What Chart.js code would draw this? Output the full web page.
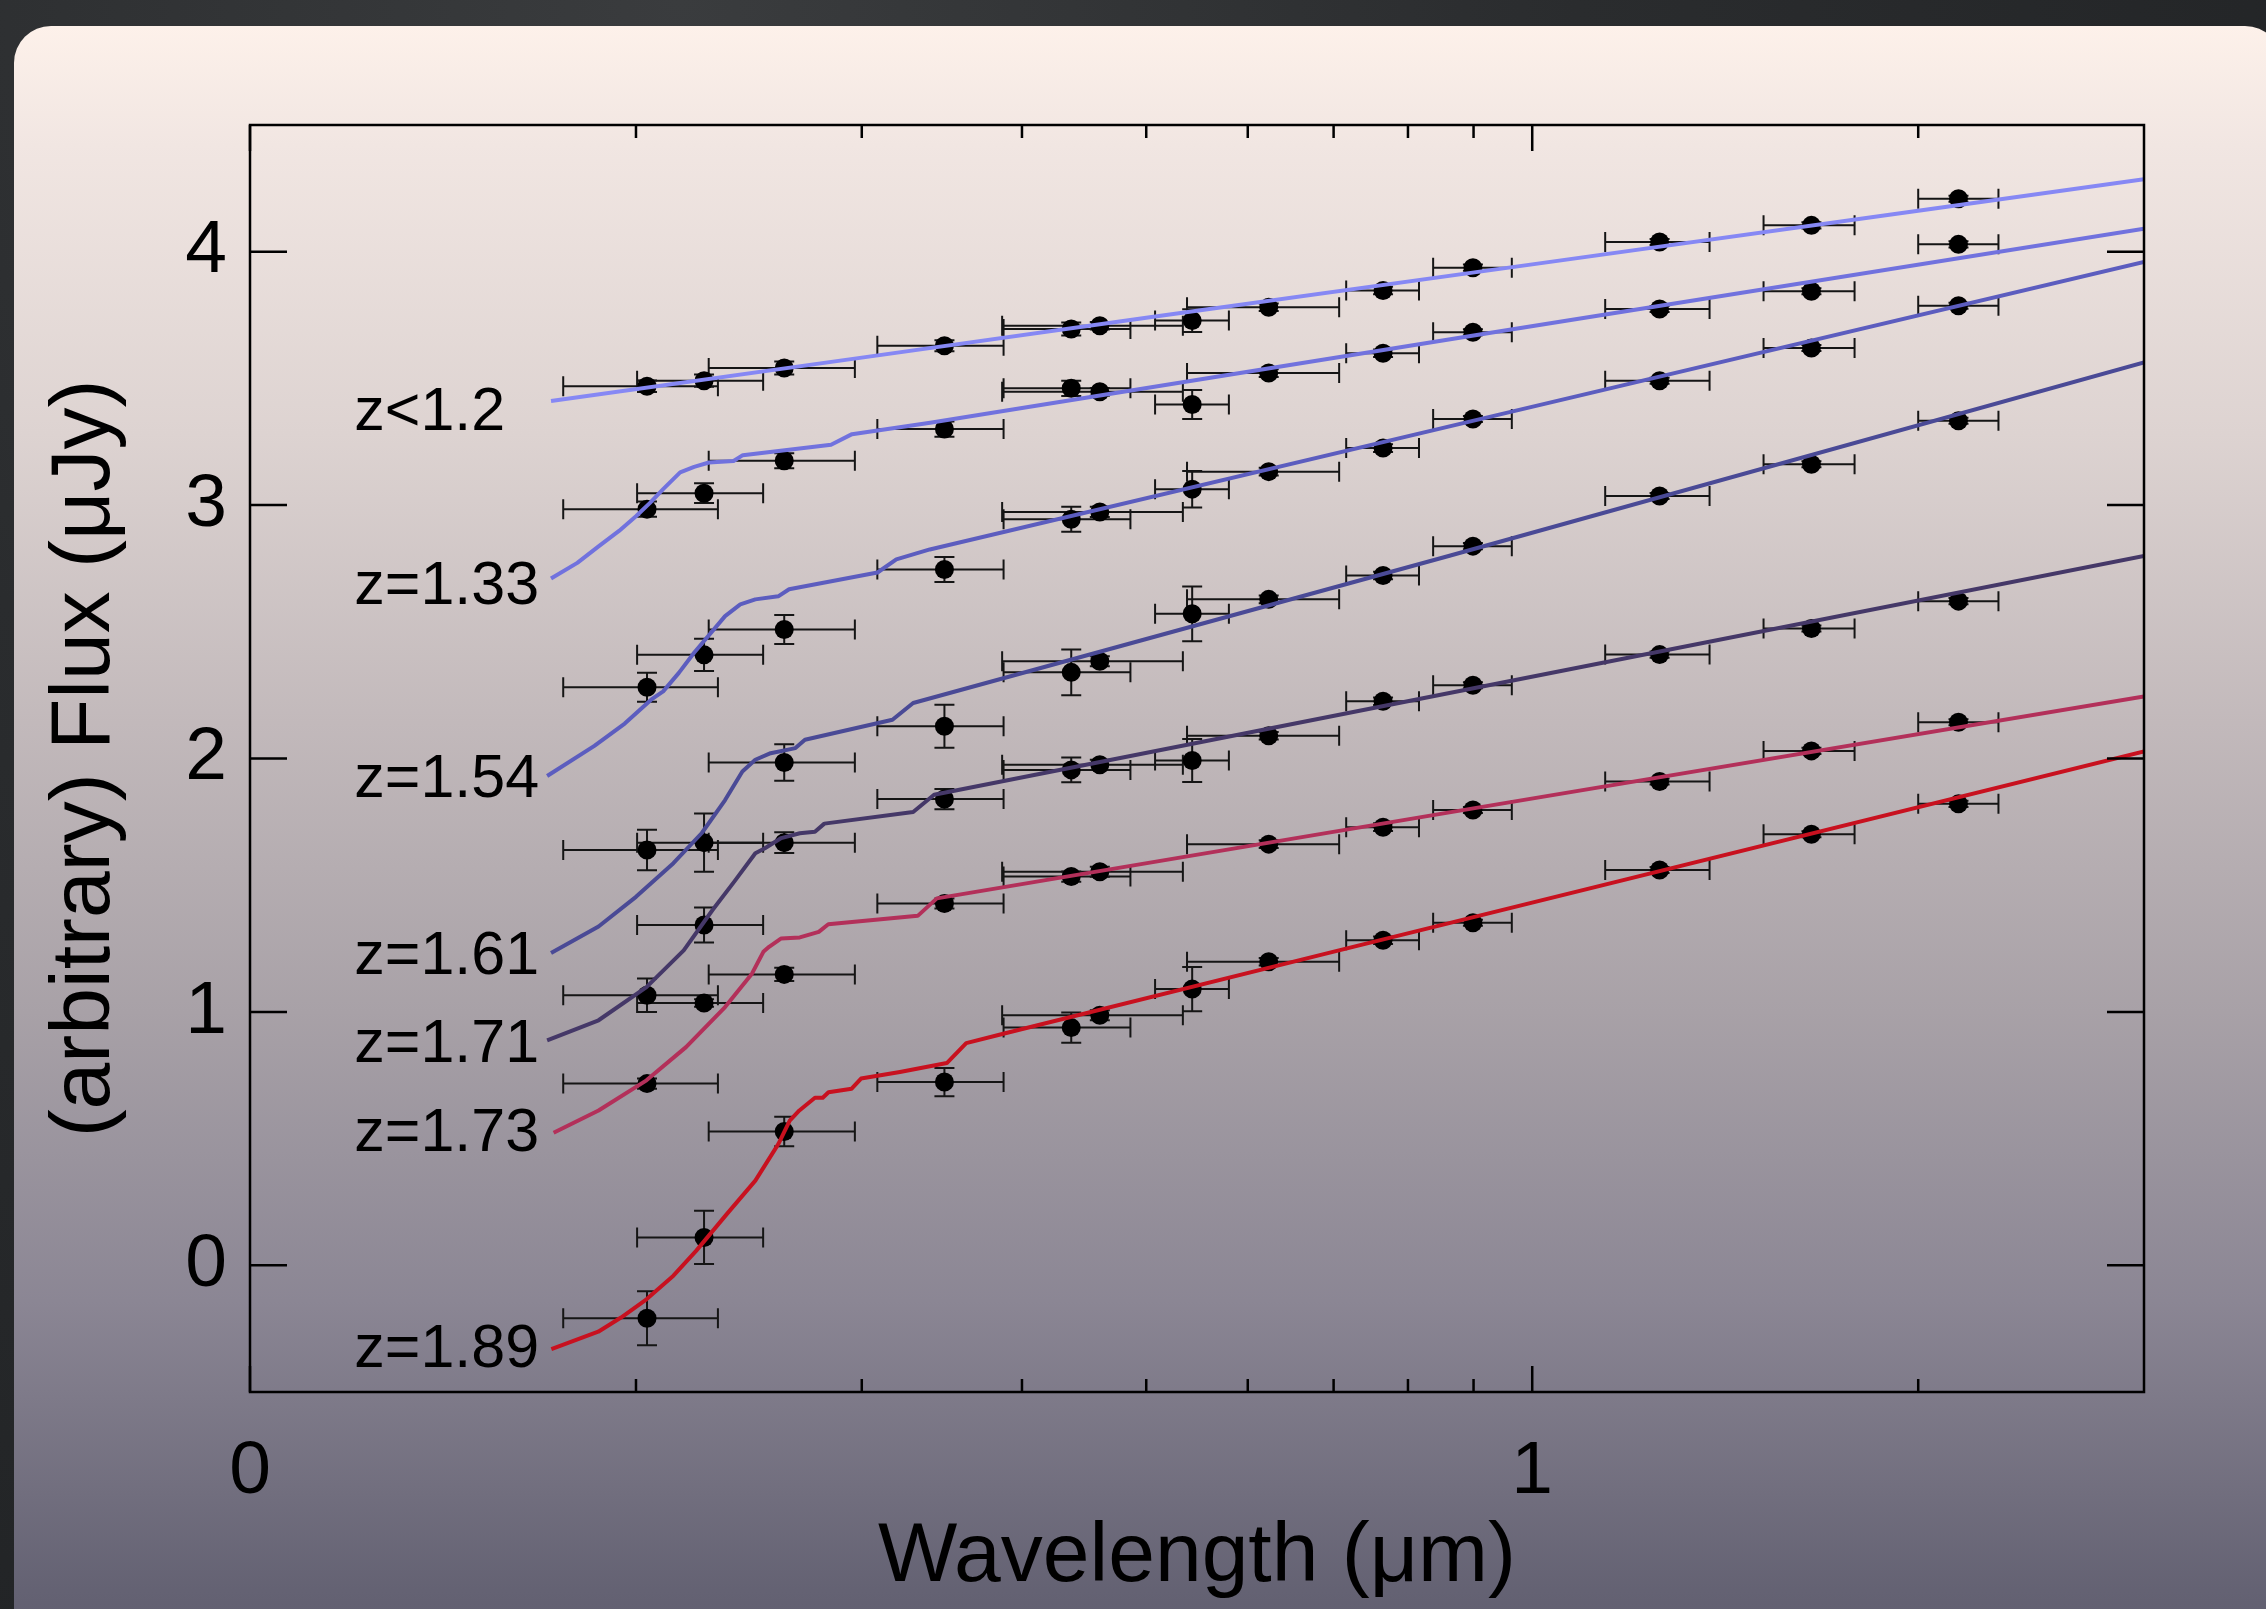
<!DOCTYPE html>
<html lang="en">
<head>
<meta charset="UTF-8">
<title>SED fits by redshift</title>
<script src="https://cdn.jsdelivr.net/npm/chart.js@4.4.1/dist/chart.umd.min.js"></script>
<style>
  html, body { margin: 0; padding: 0; width: 2266px; height: 1609px; overflow: hidden; background: #2b2d2f; }
  body { background: radial-gradient(ellipse at 30% 0%, #3a3c3e 0%, #2a2c2e 40%, #1e2022 100%); }
  #panel {
    position: absolute; left: 14px; top: 26px; width: 2268px; height: 1700px; border-radius: 37px;
    background: linear-gradient(to bottom, #fdf1ea 0%, #f1e6e2 7%, #ddd3d1 24%, #c2b9bb 41%, #a8a1a7 58%, #8b8694 75%, #646273 92%, #5a5869 100%);
  }
  #chart1 { position: absolute; left: 0; top: 0; }
</style>
</head>
<body>
<div id="panel"></div>
<canvas id="chart1" width="2266" height="1609"></canvas>
<script>
// photometric bands (microns): centre and filter edges
const wavelengths = [0.204, 0.226, 0.261, 0.348, 0.437, 0.460, 0.543, 0.623, 0.765, 0.899, 1.257, 1.651, 2.15];
const bandLo = [0.1755, 0.2004, 0.2279, 0.3085, 0.387, 0.386, 0.508, 0.538, 0.716, 0.837, 1.14, 1.515, 2.0];
const bandHi = [0.2317, 0.2513, 0.2963, 0.387, 0.486, 0.534, 0.580, 0.707, 0.816, 0.964, 1.375, 1.784, 2.31];

// stacked fluxes (arbitrary offsets) for each redshift bin
const zLabels = ['z<1.2', 'z=1.33', 'z=1.54', 'z=1.61', 'z=1.71', 'z=1.73', 'z=1.89'];
const fluxZ12  = [3.469, 3.491, 3.541, 3.629, 3.695, 3.708, 3.728, 3.781, 3.847, 3.937, 4.038, 4.104, 4.209];
const fluxZ133 = [2.984, 3.047, 3.175, 3.300, 3.461, 3.447, 3.397, 3.521, 3.599, 3.682, 3.774, 3.844, 4.029];
const fluxZ154 = [2.281, 2.409, 2.509, 2.746, 2.944, 2.973, 3.063, 3.132, 3.225, 3.340, 3.491, 3.620, 3.787];
const fluxZ161 = [1.639, 1.668, 1.984, 2.127, 2.340, 2.384, 2.571, 2.628, 2.722, 2.838, 3.036, 3.161, 3.333];
const fluxZ171 = [1.066, 1.343, 1.668, 1.840, 1.955, 1.975, 1.992, 2.090, 2.226, 2.289, 2.410, 2.513, 2.621];
const fluxZ173 = [0.717, 1.035, 1.148, 1.428, 1.534, 1.553, null, 1.662, 1.729, 1.797, 1.909, 2.030, 2.143];
const fluxZ189 = [-0.209, 0.110, 0.528, 0.723, 0.938, 0.987, 1.090, 1.198, 1.283, 1.352, 1.560, 1.701, 1.821];

// flux errors
const errZ12  = [0.023, 0.024, 0.026, 0.022, 0.026, 0.015, 0.045, 0.015, 0.015, 0.012, 0.012, 0.012, 0.012];
const errZ133 = [0.030, 0.039, 0.030, 0.030, 0.030, 0.015, 0.057, 0.015, 0.015, 0.012, 0.012, 0.012, 0.012];
const errZ154 = [0.057, 0.064, 0.057, 0.049, 0.049, 0.020, 0.072, 0.015, 0.015, 0.012, 0.012, 0.012, 0.012];
const errZ161 = [0.080, 0.115, 0.072, 0.085, 0.090, 0.020, 0.108, 0.015, 0.015, 0.012, 0.012, 0.012, 0.012];
const errZ171 = [0.066, 0.069, 0.041, 0.040, 0.049, 0.020, 0.085, 0.015, 0.015, 0.012, 0.012, 0.012, 0.012];
const errZ173 = [0.020, 0.015, 0.026, 0.020, 0.020, 0.020, 0, 0.015, 0.015, 0.012, 0.012, 0.012, 0.012];
const errZ189 = [0.107, 0.105, 0.058, 0.056, 0.060, 0.020, 0.087, 0.015, 0.015, 0.012, 0.012, 0.012, 0.012];

// model SEDs (wavelength, flux)
const sedLamZ12  = [0.1717, 0.3, 0.5, 1.0, 2.0, 3.0];
const sedFluxZ12 = [3.411, 3.582, 3.739, 3.950, 4.162, 4.286];
const sedLamZ133  = [0.1717, 0.180, 0.187, 0.194, 0.200, 0.205, 0.210, 0.2165, 0.222, 0.228, 0.2383, 0.2423, 0.2839, 0.2948, 0.3392, 0.944, 3.0];
const sedFluxZ133 = [2.71, 2.772, 2.837, 2.898, 2.956, 3.008, 3.063, 3.129, 3.151, 3.168, 3.174, 3.197, 3.238, 3.28, 3.325, 3.686, 4.091];
const sedLamZ154  = [0.1705, 0.1856, 0.196, 0.2055, 0.210, 0.216, 0.222, 0.2347, 0.2412, 0.2478, 0.2582, 0.2633, 0.3086, 0.3192, 0.339, 0.944, 3.0];
const sedFluxZ154 = [1.931, 2.05, 2.138, 2.232, 2.265, 2.338, 2.417, 2.562, 2.608, 2.628, 2.64, 2.668, 2.734, 2.786, 2.825, 3.358, 3.96];
const sedLamZ161  = [0.1717, 0.187, 0.2, 0.2139, 0.2251, 0.2347, 0.2421, 0.2478, 0.2547, 0.2663, 0.2709, 0.317, 0.329, 0.862, 3.0];
const sedFluxZ161 = [1.232, 1.337, 1.454, 1.587, 1.706, 1.836, 1.949, 1.995, 2.021, 2.041, 2.074, 2.153, 2.219, 2.80, 3.563];
const sedLamZ171  = [0.1705, 0.187, 0.2038, 0.2179, 0.2294, 0.2386, 0.2478, 0.2521, 0.2596, 0.2684, 0.2758, 0.2805, 0.329, 0.3416, 0.944, 3.0];
const sedFluxZ171 = [0.888, 0.967, 1.098, 1.243, 1.401, 1.514, 1.626, 1.646, 1.686, 1.705, 1.711, 1.743, 1.789, 1.857, 2.298, 2.799];
const sedLamZ173  = [0.1725, 0.187, 0.2038, 0.2188, 0.2347, 0.2463, 0.2514, 0.254, 0.2596, 0.2684, 0.2777, 0.2825, 0.3317, 0.3433, 0.944, 3.0];
const sedFluxZ173 = [0.523, 0.611, 0.73, 0.861, 1.019, 1.151, 1.237, 1.257, 1.29, 1.294, 1.316, 1.346, 1.379, 1.448, 1.821, 2.245];
const sedLamZ189  = [0.1718, 0.1869, 0.1947, 0.2038, 0.2139, 0.2228, 0.2355, 0.2478, 0.2583, 0.2636, 0.2682, 0.2758, 0.2797, 0.2826, 0.2946, 0.2996, 0.3213, 0.3495, 0.3619, 0.3868, 0.708, 3.0];
const sedFluxZ189 = [-0.331, -0.262, -0.206, -0.134, -0.041, 0.057, 0.203, 0.334, 0.479, 0.571, 0.611, 0.661, 0.661, 0.683, 0.697, 0.737, 0.763, 0.798, 0.877, 0.914, 1.244, 2.028];

// where the z labels sit (wavelength, flux of baseline)
const labelLam = 0.1206;
const labelFlux = [3.297, 2.608, 1.85, 1.149, 0.802, 0.45, -0.4];

// axis ticks
const xMajorTicks = [0.1, 1];
const xMinorTicks = [0.2, 0.3, 0.4, 0.5, 0.6, 0.7, 0.8, 0.9, 2];
const yTicks = [0, 1, 2, 3, 4];

const lineColors = ['#8688f4', '#7172de', '#5c5dbf', '#4a4a96', '#453868', '#b3305a', '#c8111f'];

const series = [
  { flux: fluxZ12,  err: errZ12,  lam: sedLamZ12,  sed: sedFluxZ12 },
  { flux: fluxZ133, err: errZ133, lam: sedLamZ133, sed: sedFluxZ133 },
  { flux: fluxZ154, err: errZ154, lam: sedLamZ154, sed: sedFluxZ154 },
  { flux: fluxZ161, err: errZ161, lam: sedLamZ161, sed: sedFluxZ161 },
  { flux: fluxZ171, err: errZ171, lam: sedLamZ171, sed: sedFluxZ171 },
  { flux: fluxZ173, err: errZ173, lam: sedLamZ173, sed: sedFluxZ173 },
  { flux: fluxZ189, err: errZ189, lam: sedLamZ189, sed: sedFluxZ189 }
];

const FONT = '"Liberation Sans", Arial, Helvetica, sans-serif';

const datasets = [];
series.forEach((s, k) => {
  // model line, drawn on top of the points
  datasets.push({
    label: zLabels[k],
    data: s.lam.map((l, i) => ({ x: l, y: s.sed[i] })),
    showLine: true,
    borderColor: lineColors[k],
    borderWidth: 4,
    borderJoinStyle: 'round',
    pointRadius: 0,
    tension: 0,
    order: 1
  });
  // measured points
  datasets.push({
    label: zLabels[k] + ' data',
    data: wavelengths.map((l, i) => ({ x: l, y: s.flux[i] })).filter(p => p.y !== null),
    showLine: false,
    pointRadius: 9.5,
    pointBackgroundColor: '#000',
    pointBorderWidth: 0,
    order: 2
  });
});

// error bars under everything
const errorBars = {
  id: 'errorBars',
  beforeDatasetsDraw(chart) {
    const ctx = chart.ctx, xs = chart.scales.x, ys = chart.scales.y;
    ctx.save();
    ctx.strokeStyle = '#151515';
    ctx.lineWidth = 2;
    series.forEach(s => {
      wavelengths.forEach((l, i) => {
        if (s.flux[i] === null) return;
        const x = xs.getPixelForValue(l);
        const y = ys.getPixelForValue(s.flux[i]);
        const x0 = xs.getPixelForValue(bandLo[i]), x1 = xs.getPixelForValue(bandHi[i]);
        const y0 = ys.getPixelForValue(s.flux[i] - s.err[i]), y1 = ys.getPixelForValue(s.flux[i] + s.err[i]);
        ctx.beginPath();
        ctx.moveTo(x0, y); ctx.lineTo(x1, y);
        ctx.moveTo(x0, y - 10); ctx.lineTo(x0, y + 10);
        ctx.moveTo(x1, y - 10); ctx.lineTo(x1, y + 10);
        ctx.moveTo(x, y0); ctx.lineTo(x, y1);
        ctx.moveTo(x - 10, y0); ctx.lineTo(x + 10, y0);
        ctx.moveTo(x - 10, y1); ctx.lineTo(x + 10, y1);
        ctx.stroke();
      });
    });
    ctx.restore();
  }
};

// box with inward ticks on all four sides, plus the z labels
const frame = {
  id: 'frame',
  afterDraw(chart) {
    const ctx = chart.ctx, a = chart.chartArea, xs = chart.scales.x, ys = chart.scales.y;
    ctx.save();
    ctx.strokeStyle = '#000';
    ctx.lineWidth = 2.5;
    ctx.strokeRect(a.left, a.top, a.right - a.left, a.bottom - a.top);
    ctx.beginPath();
    const xTick = (v, len) => {
      const x = xs.getPixelForValue(v);
      ctx.moveTo(x, a.bottom); ctx.lineTo(x, a.bottom - len);
      ctx.moveTo(x, a.top); ctx.lineTo(x, a.top + len);
    };
    xMajorTicks.forEach(v => xTick(v, 26));
    xMinorTicks.forEach(v => xTick(v, 13));
    yTicks.forEach(v => {
      const y = ys.getPixelForValue(v);
      ctx.moveTo(a.left, y); ctx.lineTo(a.left + 37, y);
      ctx.moveTo(a.right, y); ctx.lineTo(a.right - 37, y);
    });
    ctx.stroke();

    ctx.fillStyle = '#000';
    ctx.font = '61px ' + FONT;
    ctx.textAlign = 'left';
    ctx.textBaseline = 'alphabetic';
    zLabels.forEach((t, k) => {
      ctx.fillText(t, xs.getPixelForValue(labelLam), ys.getPixelForValue(labelFlux[k]));
    });
    ctx.restore();
  }
};

const ctx = document.getElementById('chart1');
const chart1 = new Chart(ctx, {
  type: 'scatter',
  data: { datasets: datasets },
  options: {
    responsive: false,
    animation: false,
    layout: { padding: { left: 0, right: 122, top: 125, bottom: 0 } },
    plugins: { legend: { display: false }, tooltip: { enabled: false } },
    scales: {
      x: {
        type: 'logarithmic',
        min: 0.1,
        max: 3,
        afterFit: s => { s.height = 217; },
        afterBuildTicks: s => { s.ticks = xMajorTicks.map(v => ({ value: v })); },
        grid: { display: false, drawTicks: false },
        border: { display: false },
        ticks: {
          autoSkip: false, maxRotation: 0, padding: 43, color: '#000',
          font: { family: FONT, size: 75, lineHeight: 1 },
          // the original prints 0.1 as "0"
          callback: v => String(Math.round(v))
        },
        title: {
          display: true, text: 'Wavelength (μm)', color: '#000',
          font: { family: FONT, size: 84, lineHeight: 1 },
          padding: { top: 0, bottom: 9 }
        }
      },
      y: {
        min: -0.5,
        max: 4.5,
        afterFit: s => { s.width = 250; },
        afterBuildTicks: s => { s.ticks = yTicks.map(v => ({ value: v })); },
        grid: { display: false, drawTicks: false },
        border: { display: false },
        ticks: {
          padding: 23, color: '#000',
          font: { family: FONT, size: 75, lineHeight: 1 }
        },
        title: {
          display: true, text: '(arbitrary) Flux (μJy)', color: '#000',
          font: { family: FONT, size: 84, lineHeight: 1 },
          padding: { top: 44, bottom: 0 }
        }
      }
    }
  },
  plugins: [errorBars, frame]
});
</script>
</body>
</html>
